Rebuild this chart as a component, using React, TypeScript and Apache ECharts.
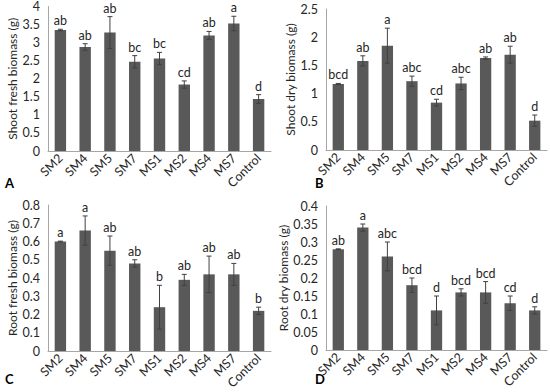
import React, { useEffect, useRef } from "react";
import * as echarts from "echarts";

const categories = ["SM2", "SM4", "SM5", "SM7", "MS1", "MS2", "MS4", "MS7", "Control"];

const shootFresh = [3.35, 2.88, 3.28, 2.47, 2.56, 1.84, 3.2, 3.53, 1.44];
const shootFreshErr = [0.02, 0.09, 0.44, 0.17, 0.17, 0.1, 0.11, 0.2, 0.12];
const shootFreshLetters = ["ab", "ab", "ab", "bc", "bc", "cd", "ab", "a", "d"];

const shootDry = [1.17, 1.58, 1.85, 1.22, 0.84, 1.18, 1.63, 1.69, 0.52];
const shootDryErr = [0.01, 0.09, 0.31, 0.09, 0.06, 0.11, 0.02, 0.15, 0.1];
const shootDryLetters = ["bcd", "ab", "a", "abc", "cd", "abc", "ab", "ab", "d"];

const rootFresh = [0.6, 0.66, 0.55, 0.48, 0.24, 0.39, 0.42, 0.42, 0.22];
const rootFreshErr = [0.002, 0.08, 0.08, 0.02, 0.12, 0.03, 0.1, 0.06, 0.02];
const rootFreshLetters = ["a", "a", "ab", "ab", "b", "ab", "ab", "ab", "b"];

const rootDry = [0.28, 0.34, 0.26, 0.18, 0.11, 0.16, 0.16, 0.13, 0.11];
const rootDryErr = [0.001, 0.01, 0.04, 0.02, 0.04, 0.01, 0.03, 0.02, 0.01];
const rootDryLetters = ["ab", "a", "abc", "bcd", "d", "bcd", "bcd", "cd", "d"];

const panels = [
  { name: "Shoot fresh biomass (g)", values: shootFresh, errs: shootFreshErr, letters: shootFreshLetters, max: 4, interval: 0.5, label: "A", grid: { left: 48, top: 6, width: 223, height: 145 } },
  { name: "Shoot dry biomass (g)", values: shootDry, errs: shootDryErr, letters: shootDryLetters, max: 2.5, interval: 0.5, label: "B", grid: { left: 326, top: 9, width: 221, height: 141 } },
  { name: "Root fresh biomass (g)", values: rootFresh, errs: rootFreshErr, letters: rootFreshLetters, max: 0.8, interval: 0.1, label: "C", grid: { left: 48, top: 205, width: 223, height: 146 } },
  { name: "Root dry biomass (g)", values: rootDry, errs: rootDryErr, letters: rootDryLetters, max: 0.4, interval: 0.05, label: "D", grid: { left: 326, top: 206, width: 221, height: 144 } },
];

const FONT = "Lato";
const BAR = "#595959";
const TXT = "#262626";

export default function App() {
  const ref = useRef<HTMLDivElement>(null);
  useEffect(() => {
    if (!ref.current) return;
    const chart = echarts.init(ref.current, undefined, { renderer: "svg" });
    const grid: any[] = [];
    const xAxis: any[] = [];
    const yAxis: any[] = [];
    const series: any[] = [];
    panels.forEach((p, i) => {
      grid.push(p.grid);
      xAxis.push({
        type: "category",
        gridIndex: i,
        data: categories,
        axisLine: { lineStyle: { color: "#A6A6A6" } },
        axisTick: { show: false },
        axisLabel: { rotate: 45, margin: 5, fontSize: 12.5, color: TXT, fontFamily: FONT, interval: 0 },
      });
      yAxis.push({
        type: "value",
        gridIndex: i,
        min: 0,
        max: p.max,
        interval: p.interval,
        name: p.name,
        nameLocation: "middle",
        nameGap: 30,
        nameTextStyle: { fontSize: 12, color: TXT, fontFamily: FONT },
        axisLine: { show: true, lineStyle: { color: "#A6A6A6" } },
        axisTick: { show: false },
        splitLine: { show: false },
        axisLabel: { fontSize: 12.5, color: TXT, fontFamily: FONT, margin: 8 },
      });
      series.push({
        type: "bar",
        xAxisIndex: i,
        yAxisIndex: i,
        data: p.values,
        barWidth: "46%",
        itemStyle: { color: BAR },
      });
      series.push({
        type: "custom",
        xAxisIndex: i,
        yAxisIndex: i,
        itemStyle: { color: TXT },
        data: p.values.map((v, k) => [k, v - p.errs[k], v + p.errs[k]]),
        z: 5,
        renderItem: (params: any, api: any) => {
          const x = api.value(0);
          const lo = api.coord([x, api.value(1)]);
          const hi = api.coord([x, api.value(2)]);
          const cap = 2.5;
          const st = { stroke: "#404040", lineWidth: 1 };
          return {
            type: "group",
            children: [
              { type: "line", shape: { x1: hi[0], y1: hi[1], x2: lo[0], y2: lo[1] }, style: st },
              { type: "line", shape: { x1: hi[0] - cap, y1: hi[1], x2: hi[0] + cap, y2: hi[1] }, style: st },
              { type: "line", shape: { x1: lo[0] - cap, y1: lo[1], x2: lo[0] + cap, y2: lo[1] }, style: st },
              {
                type: "text",
                x: hi[0],
                y: hi[1] - 2,
                style: {
                  text: p.letters[params.dataIndex],
                  fill: TXT,
                  fontSize: 12.5,
                  fontFamily: FONT,
                  align: "center",
                  verticalAlign: "bottom",
                },
              },
            ],
          };
        },
      });
    });
    const graphic = [
      { type: "text", left: 5, top: 176, style: { text: "A", font: `bold 13px ${FONT}`, fill: "#000" } },
      { type: "text", left: 315, top: 176, style: { text: "B", font: `bold 13px ${FONT}`, fill: "#000" } },
      { type: "text", left: 5, top: 372, style: { text: "C", font: `bold 13px ${FONT}`, fill: "#000" } },
      { type: "text", left: 315, top: 372, style: { text: "D", font: `bold 13px ${FONT}`, fill: "#000" } },
    ];
    chart.setOption({
      animation: false,
      backgroundColor: "#fff",
      grid,
      xAxis,
      yAxis,
      series,
      graphic,
    });
    return () => chart.dispose();
  }, []);
  return <div ref={ref} style={{ position: "fixed", left: 0, top: 0, width: 550, height: 392 }} />;
}
